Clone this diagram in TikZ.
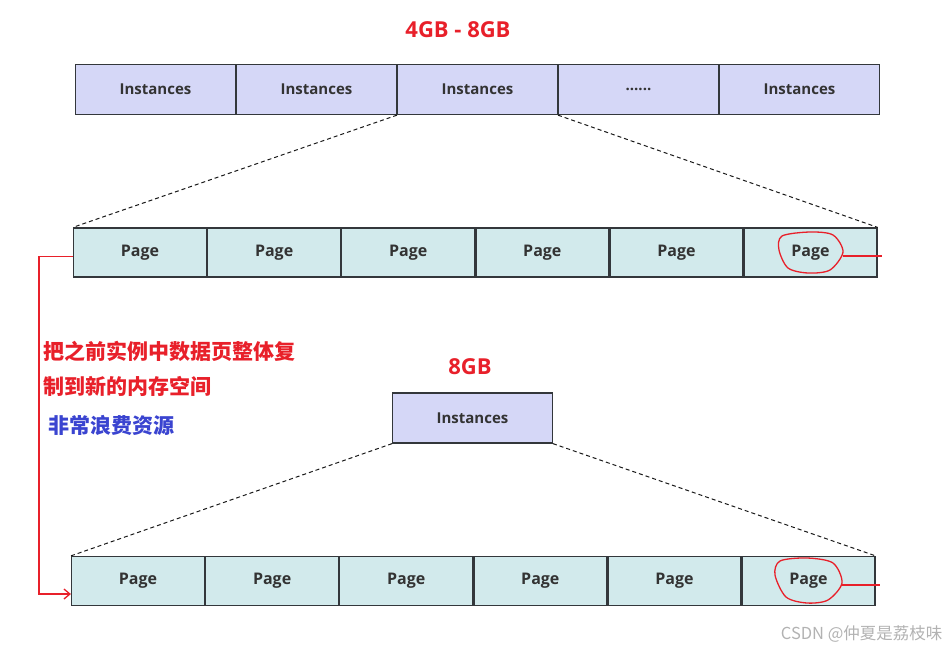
\documentclass[tikz,border=0pt]{standalone}
\usepackage{fontspec}
\setmainfont{Open Sans}
\newfontfamily\cjk{Noto Sans CJK SC}
\usetikzlibrary{positioning,arrows.meta}
\definecolor{instfill}{HTML}{D5D7F7}
\definecolor{pagefill}{HTML}{D2EAEC}
\definecolor{cellline}{HTML}{33373B}
\definecolor{notered}{HTML}{E8202A}
\definecolor{noteblue}{HTML}{3A44D0}
\begin{document}
\begin{tikzpicture}[x=1pt,y=-1pt,font=\bfseries\fontsize{15}{17}\selectfont,
    inst/.style={draw=cellline,line width=1.3pt,fill=instfill,minimum width=159.7pt,minimum height=50pt,text=black!80},
    page/.style={draw=cellline,line width=1.3pt,fill=pagefill,minimum width=132.8pt,minimum height=49pt,text=black!80,font=\bfseries\fontsize{16}{18}\selectfont},
    zoomline/.style={dash pattern=on 4pt off 3pt,line width=1pt,black!90},
    size/.style={text=notered,font=\bfseries\fontsize{22}{24}\selectfont},
    note/.style={anchor=west,font=\cjk\bfseries\fontsize{21}{23}\selectfont},
    penmark/.style={notered,line width=1.3pt}]
  \useasboundingbox (0,0) rectangle (948,651);
  \node[size] (range) at (458,30) {4GB - 8GB};
  \node[inst] (i1) at (155.5,89.5) {Instances};
  \node[inst,right=0pt of i1] (i2) {Instances};
  \node[inst,right=0pt of i2] (i3) {Instances};
  \node[inst,right=0pt of i3] (i4) {......};
  \node[inst,right=0pt of i4] (i5) {Instances};
  \node[page] (p1) at (140,252.5) {Page};
  \foreach \a/\b in {1/2,2/3,3/4,4/5,5/6}
    \node[page,right=0pt of p\a] (p\b) {Page};
  \draw[zoomline] (i3.south west) -- (p1.north west);
  \draw[zoomline] (i3.south east) -- (p6.north east);
  \node[size] (full) at (470,367) {8GB};
  \node[inst] (inst) at (472.5,418) {Instances};
  \node[page] (q1) at (138,581) {Page};
  \foreach \a/\b in {1/2,2/3,3/4,4/5,5/6}
    \node[page,right=0pt of q\a] (q\b) {Page};
  \draw[zoomline] (inst.south west) -- (q1.north west);
  \draw[zoomline] (inst.south east) -- (q6.north east);
  % copy of the pages
  \draw[penmark,-{Straight Barb[length=6pt,width=10pt]}] ([yshift=-4pt]p1.west) -- ++(-34,0) |- ([yshift=-13pt]q1.west);
  \node[note,text=notered] (copy1) at (40,351) {把之前实例中数据页整体复};
  \node[note,text=notered] (copy2) at (40,386) {制到新的内存空间};
  \node[note,text=noteblue] (waste) at (45,425) {非常浪费资源};
  % hand circles
  \draw[penmark] plot[smooth cycle] coordinates {(810,232) (833,235) (843,252) (830,270) (808,273) (788,268) (779,250) (782,236)};
  \draw[penmark] (843,256) -- (882,256);
  \draw[penmark] plot[smooth cycle] coordinates {(807,558) (833,563) (842,583) (828,600) (807,603) (786,597) (775,575) (780,561)};
  \draw[penmark] (842,585) -- (880,585);
  \node[anchor=east,text=black!30,font=\cjk\fontsize{16.5}{18}\selectfont] (wm) at (946,634) {CSDN @仲夏是荔枝味};
\end{tikzpicture}
\end{document}
